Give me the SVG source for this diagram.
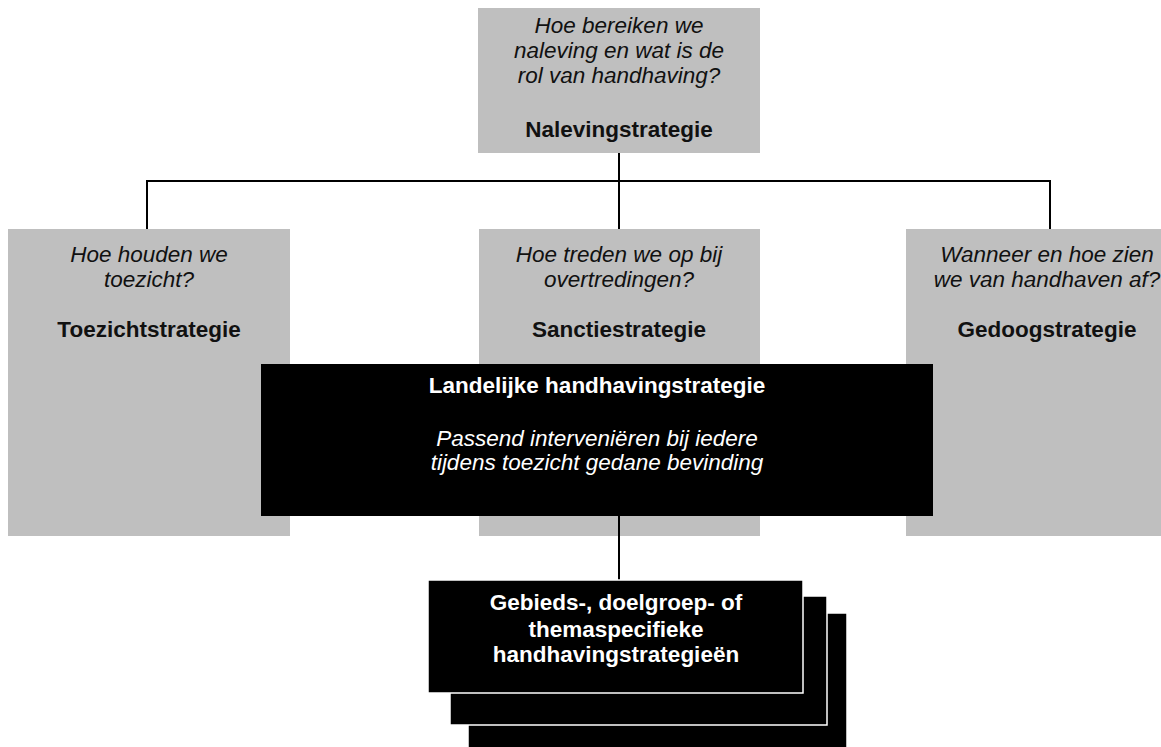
<svg xmlns="http://www.w3.org/2000/svg" width="1161" height="747" viewBox="0 0 1161 747">
<style>
.gray{fill:#bfbfbf}
.blk{fill:#000}
.stk{fill:#000;stroke:#fff;stroke-width:1.5}
.con{stroke:#000;stroke-width:2;fill:none}
text{font-family:"Liberation Sans",Arial,sans-serif;font-size:22.5px;text-anchor:middle}
.q{font-style:italic;fill:#111}
.t{font-weight:bold;fill:#111}
.qw{font-style:italic;fill:#fff}
.tw{font-weight:bold;fill:#fff}
</style>
<rect width="1161" height="747" fill="#fff"/>
<g id="naleving">
<rect class="gray" x="478" y="8" width="282" height="145"/>
<text class="q" x="619" y="33">Hoe bereiken we</text>
<text class="q" x="619" y="58">naleving en wat is de</text>
<text class="q" x="619" y="83">rol van handhaving?</text>
<text class="t" x="619" y="137">Nalevingstrategie</text>
</g>
<g id="toezicht">
<rect class="gray" x="8" y="229" width="282" height="307"/>
<text class="q" x="149" y="262">Hoe houden we</text>
<text class="q" x="149" y="287">toezicht?</text>
<text class="t" x="149" y="337">Toezichtstrategie</text>
</g>
<g id="sanctie">
<rect class="gray" x="479" y="229" width="281" height="307"/>
<text class="q" x="619" y="262">Hoe treden we op bij</text>
<text class="q" x="619" y="287">overtredingen?</text>
<text class="t" x="619" y="337">Sanctiestrategie</text>
</g>
<g id="gedoog">
<rect class="gray" x="906" y="229" width="282" height="307"/>
<text class="q" x="1047" y="262">Wanneer en hoe zien</text>
<text class="q" x="1047" y="287">we van handhaven af?</text>
<text class="t" x="1047" y="337">Gedoogstrategie</text>
</g>
<g id="landelijk">
<rect class="blk" x="261" y="364" width="672" height="152"/>
<text class="tw" x="597" y="393">Landelijke handhavingstrategie</text>
<text class="qw" x="597" y="446">Passend interveniëren bij iedere</text>
<text class="qw" x="597" y="470">tijdens toezicht gedane bevinding</text>
</g>
<g id="connectors">
<path class="con" d="M619 153V229M147 229V181H1050V229M619 516V580"/>
</g>
<g id="specifiek">
<rect class="stk" x="468" y="613" width="379" height="140"/>
<rect class="stk" x="450" y="596" width="377" height="129"/>
<rect class="stk" x="428" y="580" width="375" height="113"/>
<text class="tw" x="616" y="610">Gebieds-, doelgroep- of</text>
<text class="tw" x="616" y="637">themaspecifieke</text>
<text class="tw" x="616" y="662">handhavingstrategieën</text>
</g>
</svg>
